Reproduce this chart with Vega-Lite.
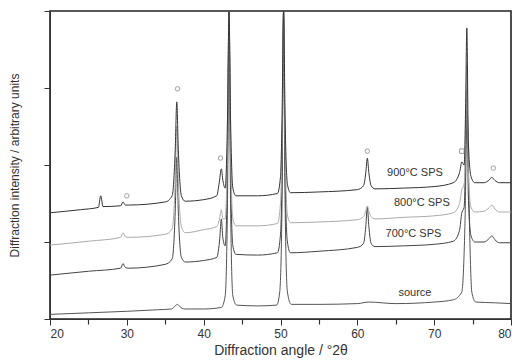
{
  "$schema": "https://vega.github.io/schema/vega-lite/v6.json",
  "autosize": {"type": "none"},
  "padding": {"left": 50, "top": 11, "right": 3, "bottom": 43},
  "width": 461,
  "height": 308,
  "config": {
    "view": {"stroke": "#222222", "strokeWidth": 1.6},
    "axis": {"domainColor": "#333333", "tickColor": "#333333", "labelColor": "#333333", "titleColor": "#333333", "labelFont": "Liberation Sans", "titleFont": "Liberation Sans", "titleFontWeight": "normal"}
  },
  "resolve": {"scale": {"x": "independent"}, "axis": {"x": "independent"}},
  "datasets": {
    "traces": [
      {"trace": "source", "x": 20, "y": 0.06}, {"trace": "source", "x": 25, "y": 0.08}, {"trace": "source", "x": 30, "y": 0.10}, {"trace": "source", "x": 34, "y": 0.12},
      {"trace": "source", "x": 35.8, "y": 0.13}, {"trace": "source", "x": 36.3, "y": 0.17}, {"trace": "source", "x": 36.6, "y": 0.19}, {"trace": "source", "x": 36.9, "y": 0.16},
      {"trace": "source", "x": 37.5, "y": 0.13}, {"trace": "source", "x": 40, "y": 0.13}, {"trace": "source", "x": 42.3, "y": 0.15}, {"trace": "source", "x": 42.8, "y": 0.3},
      {"trace": "source", "x": 43.1, "y": 1.5}, {"trace": "source", "x": 43.3, "y": 4}, {"trace": "source", "x": 43.5, "y": 1.5}, {"trace": "source", "x": 43.8, "y": 0.3},
      {"trace": "source", "x": 44.3, "y": 0.18}, {"trace": "source", "x": 47, "y": 0.17}, {"trace": "source", "x": 49.5, "y": 0.18}, {"trace": "source", "x": 49.9, "y": 0.35},
      {"trace": "source", "x": 50.2, "y": 1.5}, {"trace": "source", "x": 50.4, "y": 4}, {"trace": "source", "x": 50.6, "y": 1.5}, {"trace": "source", "x": 50.9, "y": 0.35},
      {"trace": "source", "x": 51.4, "y": 0.19}, {"trace": "source", "x": 55, "y": 0.19}, {"trace": "source", "x": 60, "y": 0.2}, {"trace": "source", "x": 61.5, "y": 0.22},
      {"trace": "source", "x": 65, "y": 0.2}, {"trace": "source", "x": 70, "y": 0.22}, {"trace": "source", "x": 72.5, "y": 0.25}, {"trace": "source", "x": 73.6, "y": 0.35},
      {"trace": "source", "x": 74.0, "y": 1.2}, {"trace": "source", "x": 74.3, "y": 2.7}, {"trace": "source", "x": 74.6, "y": 1.2}, {"trace": "source", "x": 74.9, "y": 0.35},
      {"trace": "source", "x": 75.4, "y": 0.22}, {"trace": "source", "x": 78, "y": 0.21}, {"trace": "source", "x": 80, "y": 0.2},

      {"trace": "700", "x": 20, "y": 0.57}, {"trace": "700", "x": 25, "y": 0.62}, {"trace": "700", "x": 29.2, "y": 0.66}, {"trace": "700", "x": 29.5, "y": 0.72},
      {"trace": "700", "x": 29.8, "y": 0.67}, {"trace": "700", "x": 30.2, "y": 0.66}, {"trace": "700", "x": 35, "y": 0.71}, {"trace": "700", "x": 35.9, "y": 0.78},
      {"trace": "700", "x": 36.3, "y": 1.4}, {"trace": "700", "x": 36.5, "y": 2.1}, {"trace": "700", "x": 36.7, "y": 1.4}, {"trace": "700", "x": 37.1, "y": 0.8},
      {"trace": "700", "x": 37.6, "y": 0.74}, {"trace": "700", "x": 40, "y": 0.76}, {"trace": "700", "x": 41.7, "y": 0.8}, {"trace": "700", "x": 42.1, "y": 1.05},
      {"trace": "700", "x": 42.3, "y": 1.3}, {"trace": "700", "x": 42.5, "y": 1.05}, {"trace": "700", "x": 42.8, "y": 0.95}, {"trace": "700", "x": 43.1, "y": 2.0},
      {"trace": "700", "x": 43.3, "y": 4}, {"trace": "700", "x": 43.5, "y": 2.0}, {"trace": "700", "x": 43.8, "y": 0.95}, {"trace": "700", "x": 44.2, "y": 0.84},
      {"trace": "700", "x": 47, "y": 0.83}, {"trace": "700", "x": 49.6, "y": 0.86}, {"trace": "700", "x": 50.0, "y": 1.1}, {"trace": "700", "x": 50.2, "y": 1.9},
      {"trace": "700", "x": 50.4, "y": 4}, {"trace": "700", "x": 50.6, "y": 1.9}, {"trace": "700", "x": 50.9, "y": 1.0}, {"trace": "700", "x": 51.3, "y": 0.86},
      {"trace": "700", "x": 55, "y": 0.88}, {"trace": "700", "x": 60, "y": 0.93}, {"trace": "700", "x": 60.8, "y": 0.98}, {"trace": "700", "x": 61.1, "y": 1.2},
      {"trace": "700", "x": 61.3, "y": 1.45}, {"trace": "700", "x": 61.5, "y": 1.2}, {"trace": "700", "x": 61.8, "y": 0.98}, {"trace": "700", "x": 62.3, "y": 0.94},
      {"trace": "700", "x": 66, "y": 0.95}, {"trace": "700", "x": 70, "y": 0.97}, {"trace": "700", "x": 72.5, "y": 1.01}, {"trace": "700", "x": 73.3, "y": 1.15},
      {"trace": "700", "x": 73.6, "y": 1.38}, {"trace": "700", "x": 73.9, "y": 1.45}, {"trace": "700", "x": 74.1, "y": 2.2}, {"trace": "700", "x": 74.25, "y": 3.0},
      {"trace": "700", "x": 74.45, "y": 1.6}, {"trace": "700", "x": 74.8, "y": 1.08}, {"trace": "700", "x": 75.3, "y": 1.0}, {"trace": "700", "x": 76.5, "y": 1.0},
      {"trace": "700", "x": 77.2, "y": 1.05}, {"trace": "700", "x": 77.5, "y": 1.08}, {"trace": "700", "x": 77.9, "y": 1.03}, {"trace": "700", "x": 78.5, "y": 0.99},
      {"trace": "700", "x": 80, "y": 0.99},

      {"trace": "800", "x": 20, "y": 0.96}, {"trace": "800", "x": 25, "y": 1.01}, {"trace": "800", "x": 29.2, "y": 1.06}, {"trace": "800", "x": 29.5, "y": 1.12},
      {"trace": "800", "x": 29.8, "y": 1.07}, {"trace": "800", "x": 30.2, "y": 1.06}, {"trace": "800", "x": 35, "y": 1.10}, {"trace": "800", "x": 35.9, "y": 1.17},
      {"trace": "800", "x": 36.3, "y": 1.8}, {"trace": "800", "x": 36.5, "y": 2.5}, {"trace": "800", "x": 36.7, "y": 1.8}, {"trace": "800", "x": 37.1, "y": 1.2},
      {"trace": "800", "x": 37.6, "y": 1.12}, {"trace": "800", "x": 40, "y": 1.16}, {"trace": "800", "x": 41.7, "y": 1.2}, {"trace": "800", "x": 42.1, "y": 1.32},
      {"trace": "800", "x": 42.3, "y": 1.42}, {"trace": "800", "x": 42.5, "y": 1.3}, {"trace": "800", "x": 42.8, "y": 1.3}, {"trace": "800", "x": 43.1, "y": 2.3},
      {"trace": "800", "x": 43.3, "y": 4}, {"trace": "800", "x": 43.5, "y": 2.3}, {"trace": "800", "x": 43.8, "y": 1.3}, {"trace": "800", "x": 44.2, "y": 1.21},
      {"trace": "800", "x": 47, "y": 1.21}, {"trace": "800", "x": 49.6, "y": 1.24}, {"trace": "800", "x": 50.0, "y": 1.5}, {"trace": "800", "x": 50.2, "y": 2.3},
      {"trace": "800", "x": 50.4, "y": 4}, {"trace": "800", "x": 50.6, "y": 2.3}, {"trace": "800", "x": 50.9, "y": 1.35}, {"trace": "800", "x": 51.3, "y": 1.25},
      {"trace": "800", "x": 55, "y": 1.26}, {"trace": "800", "x": 60, "y": 1.29}, {"trace": "800", "x": 60.8, "y": 1.33}, {"trace": "800", "x": 61.1, "y": 1.4},
      {"trace": "800", "x": 61.3, "y": 1.47}, {"trace": "800", "x": 61.5, "y": 1.4}, {"trace": "800", "x": 61.8, "y": 1.33}, {"trace": "800", "x": 62.3, "y": 1.30},
      {"trace": "800", "x": 66, "y": 1.32}, {"trace": "800", "x": 70, "y": 1.34}, {"trace": "800", "x": 72.5, "y": 1.38}, {"trace": "800", "x": 73.3, "y": 1.5},
      {"trace": "800", "x": 73.6, "y": 1.68}, {"trace": "800", "x": 73.9, "y": 1.75}, {"trace": "800", "x": 74.1, "y": 2.4}, {"trace": "800", "x": 74.25, "y": 3.3},
      {"trace": "800", "x": 74.45, "y": 1.9}, {"trace": "800", "x": 74.8, "y": 1.45}, {"trace": "800", "x": 75.3, "y": 1.39}, {"trace": "800", "x": 76.5, "y": 1.40},
      {"trace": "800", "x": 77.2, "y": 1.45}, {"trace": "800", "x": 77.5, "y": 1.48}, {"trace": "800", "x": 77.9, "y": 1.43}, {"trace": "800", "x": 78.5, "y": 1.39},
      {"trace": "800", "x": 80, "y": 1.39},

      {"trace": "900", "x": 20, "y": 1.38}, {"trace": "900", "x": 24, "y": 1.42}, {"trace": "900", "x": 26.3, "y": 1.45}, {"trace": "900", "x": 26.6, "y": 1.6},
      {"trace": "900", "x": 26.9, "y": 1.46}, {"trace": "900", "x": 29.2, "y": 1.47}, {"trace": "900", "x": 29.5, "y": 1.52}, {"trace": "900", "x": 29.8, "y": 1.48},
      {"trace": "900", "x": 30.2, "y": 1.48}, {"trace": "900", "x": 35, "y": 1.52}, {"trace": "900", "x": 35.9, "y": 1.6}, {"trace": "900", "x": 36.3, "y": 2.2},
      {"trace": "900", "x": 36.5, "y": 2.82}, {"trace": "900", "x": 36.7, "y": 2.2}, {"trace": "900", "x": 37.1, "y": 1.6}, {"trace": "900", "x": 37.6, "y": 1.53},
      {"trace": "900", "x": 40, "y": 1.55}, {"trace": "900", "x": 41.7, "y": 1.6}, {"trace": "900", "x": 42.0, "y": 1.75}, {"trace": "900", "x": 42.3, "y": 1.95},
      {"trace": "900", "x": 42.5, "y": 1.8}, {"trace": "900", "x": 42.8, "y": 1.7}, {"trace": "900", "x": 43.1, "y": 2.6}, {"trace": "900", "x": 43.3, "y": 4},
      {"trace": "900", "x": 43.5, "y": 2.6}, {"trace": "900", "x": 43.8, "y": 1.7}, {"trace": "900", "x": 44.2, "y": 1.6}, {"trace": "900", "x": 47, "y": 1.6},
      {"trace": "900", "x": 49.6, "y": 1.63}, {"trace": "900", "x": 50.0, "y": 1.85}, {"trace": "900", "x": 50.2, "y": 2.6}, {"trace": "900", "x": 50.4, "y": 4},
      {"trace": "900", "x": 50.6, "y": 2.6}, {"trace": "900", "x": 50.9, "y": 1.75}, {"trace": "900", "x": 51.3, "y": 1.64}, {"trace": "900", "x": 55, "y": 1.65},
      {"trace": "900", "x": 60, "y": 1.68}, {"trace": "900", "x": 60.8, "y": 1.73}, {"trace": "900", "x": 61.1, "y": 1.9}, {"trace": "900", "x": 61.3, "y": 2.09},
      {"trace": "900", "x": 61.5, "y": 1.9}, {"trace": "900", "x": 61.8, "y": 1.73}, {"trace": "900", "x": 62.3, "y": 1.69}, {"trace": "900", "x": 66, "y": 1.7},
      {"trace": "900", "x": 70, "y": 1.72}, {"trace": "900", "x": 72.5, "y": 1.77}, {"trace": "900", "x": 73.3, "y": 1.9}, {"trace": "900", "x": 73.6, "y": 2.04},
      {"trace": "900", "x": 73.9, "y": 2.0}, {"trace": "900", "x": 74.1, "y": 2.8}, {"trace": "900", "x": 74.25, "y": 3.78}, {"trace": "900", "x": 74.45, "y": 2.3},
      {"trace": "900", "x": 74.8, "y": 1.85}, {"trace": "900", "x": 75.3, "y": 1.77}, {"trace": "900", "x": 76.5, "y": 1.77}, {"trace": "900", "x": 77.2, "y": 1.81},
      {"trace": "900", "x": 77.5, "y": 1.84}, {"trace": "900", "x": 77.9, "y": 1.8}, {"trace": "900", "x": 78.5, "y": 1.77}, {"trace": "900", "x": 80, "y": 1.77}
    ],
    "markers": [
      {"x": 30.0, "y": 1.60, "phase": "a"},
      {"x": 36.6, "y": 2.99, "phase": "a"},
      {"x": 42.2, "y": 2.09, "phase": "a"},
      {"x": 61.3, "y": 2.18, "phase": "a"},
      {"x": 73.6, "y": 2.18, "phase": "b"},
      {"x": 77.7, "y": 1.96, "phase": "a"}
    ],
    "labels": [
      {"x": 67.5, "y": 1.90, "label": "900°C SPS"},
      {"x": 68.4, "y": 1.51, "label": "800°C SPS"},
      {"x": 67.3, "y": 1.10, "label": "700°C SPS"},
      {"x": 67.5, "y": 0.34, "label": "source"}
    ]
  },
  "layer": [
    {
      "data": {"name": "traces"},
      "mark": {"type": "line", "strokeWidth": 1, "interpolate": "monotone"},
      "encoding": {
        "x": {"field": "x", "type": "quantitative", "scale": {"domain": [20, 80], "nice": false},
          "axis": {"orient": "bottom", "values": [20, 30, 40, 50, 60, 70, 80], "format": "d", "grid": false, "tickSize": 6, "labelFontSize": 12, "labelPadding": 3, "title": "Diffraction angle / °2θ", "titleFontSize": 14, "titlePadding": 4}},
        "y": {"field": "y", "type": "quantitative", "scale": {"domain": [0, 4], "nice": false, "zero": false},
          "axis": {"orient": "left", "values": [0, 1, 2, 3, 4], "grid": false, "labels": false, "tickSize": 6, "title": "Diffraction intensity / arbitrary units", "titleFontSize": 12, "titlePadding": 22}},
        "color": {"field": "trace", "type": "nominal", "legend": null,
          "scale": {"domain": ["source", "700", "800", "900"], "range": ["#555555", "#444444", "#aaaaaa", "#333333"]}},
        "detail": {"field": "trace"}
      }
    },
    {
      "data": {"name": "markers"},
      "mark": {"type": "point", "filled": false, "size": 20, "strokeWidth": 1, "color": "#777777"},
      "encoding": {
        "x": {"field": "x", "type": "quantitative", "scale": {"domain": [20, 80], "nice": false},
          "axis": {"orient": "bottom", "values": [25, 35, 45, 55, 65, 75], "grid": false, "labels": false, "domain": false, "tickSize": 5, "tickWidth": 1.2, "title": null}},
        "y": {"field": "y", "type": "quantitative"},
        "shape": {"field": "phase", "type": "nominal", "legend": null, "scale": {"domain": ["a", "b"], "range": ["circle", "square"]}}
      }
    },
    {
      "data": {"name": "labels"},
      "mark": {"type": "text", "fontSize": 11, "color": "#333333", "font": "Liberation Sans"},
      "encoding": {
        "x": {"field": "x", "type": "quantitative", "scale": {"domain": [20, 80], "nice": false}, "axis": null},
        "y": {"field": "y", "type": "quantitative"},
        "text": {"field": "label", "type": "nominal"}
      }
    }
  ]
}
